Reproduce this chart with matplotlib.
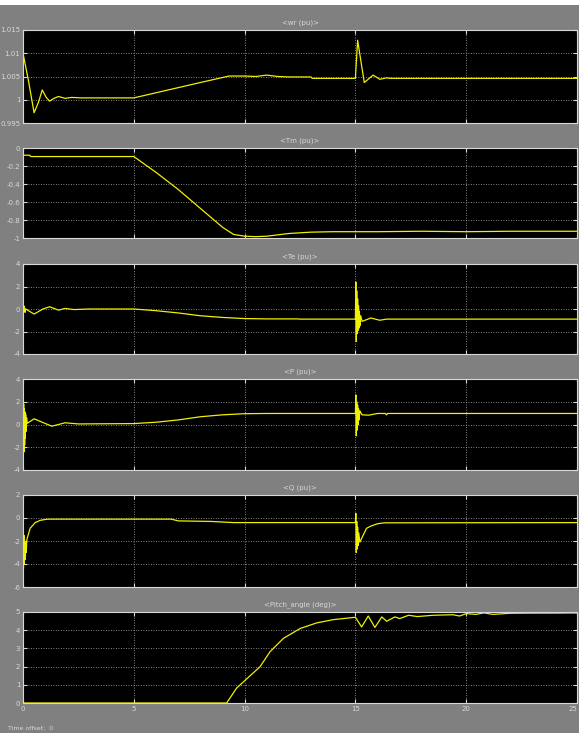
import matplotlib
matplotlib.use('Agg')
import matplotlib.pyplot as plt
from matplotlib.patches import Rectangle

# Scope style
BG = '#808080'
FG = '#d8d8d8'
LINE = '#f0f000'
plt.rcParams['font.family'] = 'DejaVu Sans'
plt.rcParams['font.size'] = 5

# ---- data ----
wr_t = [0, 0.25, 0.5, 0.7, 0.87, 1.05, 1.2, 1.4, 1.6, 1.9, 2.2, 2.6, 5, 6, 7, 8, 9.3,
        10, 10.5, 11, 11.5, 12, 13, 13.05, 15, 15.1, 15.4, 15.8, 16.1, 16.4, 16.6, 25]
wr = [1.0100, 1.0040, 0.9972, 0.9995, 1.0021, 1.0005, 0.9997, 1.0003, 1.0007, 1.0003,
      1.0005, 1.0004, 1.0004, 1.0015, 1.0026, 1.0037, 1.0051,
      1.0051, 1.0050, 1.0053, 1.0050, 1.0049, 1.0049, 1.0046, 1.0046, 1.0128, 1.0037,
      1.0053, 1.0044, 1.0047, 1.0046, 1.0046]

tm_t = [0, 0.3, 0.35, 5, 6, 7, 8, 9, 9.5, 10, 10.5, 11, 11.5, 12, 13, 14, 16, 18, 20, 22, 25]
tm = [-0.08, -0.08, -0.095, -0.095, -0.27, -0.46, -0.67, -0.88, -0.96, -0.98, -0.985,
      -0.98, -0.965, -0.95, -0.935, -0.93, -0.93, -0.925, -0.93, -0.925, -0.925]

te_t = [0, 0.03, 0.06, 0.09, 0.12, 0.5, 0.9, 1.2, 1.6, 1.9, 2.3, 3, 5, 6, 7, 8, 9, 10, 11,
        12.4, 12.5, 15, 15.02, 15.04, 15.06, 15.08, 15.10, 15.12, 15.14, 15.16, 15.18,
        15.20, 15.24, 15.30, 15.7, 16.1, 16.4, 25]
te = [0.3, -0.2, 0.25, -0.3, 0.0, -0.45, 0.0, 0.2, -0.1, 0.05, -0.05, 0.0, 0.0, -0.15,
      -0.35, -0.6, -0.75, -0.85, -0.88, -0.88, -0.9, -0.9, 2.4, -2.9, 1.6, -2.2, 0.9,
      -1.9, 0.3, -1.7, -0.2, -1.5, -0.6, -1.1, -0.8, -1.0, -0.9, -0.9]

p_t = [0, 0.015, 0.03, 0.045, 0.06, 0.075, 0.09, 0.105, 0.12, 0.14, 0.16, 0.19, 0.5,
       1.3, 1.9, 2.5, 5, 6, 7, 8, 9, 10, 11, 15, 15.02, 15.04, 15.06, 15.08, 15.10, 15.12,
       15.14, 15.17, 15.2, 15.3, 15.6, 16.0, 16.35, 16.4, 16.45, 25]
p = [2.2, -3.0, 1.8, -2.4, 1.4, -1.8, 1.1, -1.2, 0.9, -0.6, 0.6, 0.1, 0.5, -0.15, 0.15,
     0.05, 0.08, 0.2, 0.4, 0.68, 0.85, 0.95, 0.97, 0.97, 2.6, -1.0, 2.0, -0.5, 1.7, 0.0,
     1.4, 0.4, 1.2, 0.85, 0.82, 0.97, 0.97, 0.85, 0.97, 0.97]

q_t = [0, 0.02, 0.04, 0.06, 0.08, 0.10, 0.12, 0.15, 0.17, 0.32, 0.55, 0.78, 1.1, 6.7,
       7, 8.5, 9.5, 15, 15.02, 15.04, 15.06, 15.08, 15.10, 15.12, 15.15, 15.2, 15.3,
       15.5, 15.7, 16.0, 16.3, 25]
q = [-0.5, -4.4, -1.5, -4.0, -2.0, -3.6, -2.2, -3.0, -1.9, -0.9, -0.4, -0.2, -0.1, -0.1,
     -0.25, -0.3, -0.4, -0.4, 0.4, -3.0, -0.3, -2.7, -0.8, -2.4, -1.3, -2.1, -1.7, -0.9,
     -0.7, -0.5, -0.42, -0.4]

pitch_t = [0, 9.19, 9.64, 10.0, 10.7, 11.15, 11.75, 12.5, 13.25, 14.0, 15.0, 15.28, 15.58,
           15.88, 16.19, 16.41, 16.78, 17.0, 17.4, 17.8, 18.5, 19.4, 19.7, 20.0, 20.45,
           20.8, 21.2, 22, 23, 24, 25]
pitch = [0, 0, 0.82, 1.22, 2.0, 2.82, 3.55, 4.09, 4.4, 4.58, 4.71, 4.18, 4.78, 4.15,
         4.73, 4.49, 4.73, 4.64, 4.82, 4.75, 4.82, 4.85, 4.78, 4.91, 4.87, 4.95, 4.87,
         4.93, 4.94, 4.94, 4.95]

titles = ['<wr (pu)>', '<Tm (pu)>', '<Te (pu)>', '<P (pu)>', '<Q (pu)>', '<Pitch_angle (deg)>']
yticks = [[0.995, 1, 1.005, 1.01, 1.015],
          [-1, -0.8, -0.6, -0.4, -0.2, 0],
          [-4, -2, 0, 2, 4],
          [-4, -2, 0, 2, 4],
          [-6, -4, -2, 0, 2],
          [0, 1, 2, 3, 4, 5]]
ytick_labels = [['0.995', '1', '1.005', '1.01', '1.015'],
                ['-1', '-0.8', '-0.6', '-0.4', '-0.2', '0'],
                ['-4', '-2', '0', '2', '4'],
                ['-4', '-2', '0', '2', '4'],
                ['-6', '-4', '-2', '0', '2'],
                ['0', '1', '2', '3', '4', '5']]
xticks = [0, 5, 10, 15, 20, 25]

series = [(wr_t, wr), (tm_t, tm), (te_t, te), (p_t, p), (q_t, q), (pitch_t, pitch)]

# axes boxes in pixels (top, bottom)
W, H = 579, 733
boxes = [(30, 123), (148, 238), (264, 354), (379, 470), (495, 587), (612, 703)]
left_px, right_px = 23, 577

fig = plt.figure(figsize=(W / 100, H / 100), dpi=100, facecolor=BG)
fig.patches.append(Rectangle((0, 1 - 5 / H), 1, 5 / H, transform=fig.transFigure,
                             facecolor='white', edgecolor='none', zorder=0))

for i, ((top, bot), (t, y)) in enumerate(zip(boxes, series)):
    ax = fig.add_axes([left_px / W, 1 - bot / H, (right_px - left_px) / W, (bot - top) / H])
    ax.set_facecolor('black')
    ax.plot(t, y, color=LINE, lw=0.9)
    ax.set_xlim(0, 25)
    ax.set_ylim(yticks[i][0], yticks[i][-1])
    ax.set_xticks(xticks)
    ax.set_yticks(yticks[i])
    ax.set_yticklabels(ytick_labels[i])
    if i < 5:
        ax.set_xticklabels([])
    ax.grid(True, color='#b0b0b0', linestyle=(0, (1, 2)), linewidth=0.6)
    ax.tick_params(direction='in', length=3, width=0.8, colors=FG, labelsize=5,
                   top=True, right=True, pad=2)
    for s in ax.spines.values():
        s.set_color(FG)
        s.set_linewidth(0.8)
    ax.set_title(titles[i], color=FG, fontsize=5, pad=4)
    if i == 5:
        # last label sits at the right edge of the window
        ax.get_xticklabels()[-1].set_ha('right')

fig.text(8 / W, 1 - 729 / H, 'Time offset:  0', color=FG, fontsize=4.5, va='center')

fig.savefig('out.png', dpi=100, facecolor=BG)
